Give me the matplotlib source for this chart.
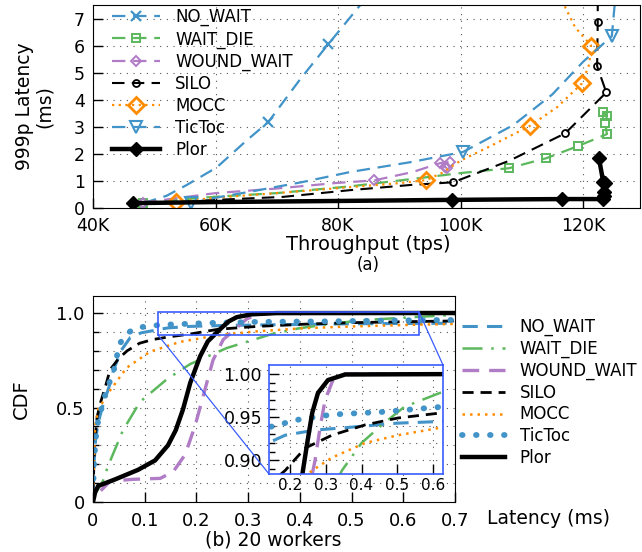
import matplotlib
matplotlib.use("Agg")
import matplotlib.pyplot as plt
from matplotlib.patches import Rectangle
from matplotlib.lines import Line2D

plt.rcParams["font.family"] = ["DejaVu Sans"]

BLUE = "#4193c8"
GREEN = "#5cb85c"
PURPLE = "#b07cc6"
ORANGE = "#ff8c00"
BOXBLUE = "#3a5cff"

# ---------------- (a) 999p latency vs throughput (K tps, ms) ----------------
nw_x = [48.2, 52.0, 55.3, 60.2, 65.1, 68.6, 73.8, 78.4, 84.0]
nw_y = [0.18, 0.45, 0.85, 1.50, 2.50, 3.17, 4.75, 6.05, 7.60]
nw_mark = [5, 7]

wd_x = [48.2, 60.2, 70.0, 82.0, 92.0, 100.0, 107.9, 114.0, 119.2, 123.9, 123.6, 123.9, 123.3]
wd_y = [0.20, 0.42, 0.55, 0.80, 1.07, 1.29, 1.47, 1.84, 2.29, 2.73, 3.14, 3.39, 3.55]
wd_mark = [0, 6, 7, 8, 9, 10, 11, 12]

ww_x = [48.2, 60.0, 70.0, 79.5, 85.9, 92.2, 96.7, 98.3, 97.4, 97.8]
ww_y = [0.20, 0.55, 0.72, 0.92, 1.02, 1.33, 1.66, 1.70, 1.52, 1.47]
ww_mark = [0, 4, 6, 7, 8, 9]

silo_x = [48.2, 60.0, 71.0, 82.0, 91.8, 98.8, 108.0, 117.1, 123.8, 122.3, 122.4, 122.4]
silo_y = [0.15, 0.30, 0.41, 0.66, 0.85, 0.95, 1.75, 2.76, 4.27, 5.24, 6.87, 7.60]
silo_mark = [5, 7, 8, 9, 10]

mocc_x = [53.6, 60.0, 70.0, 82.0, 90.0, 94.4, 97.0, 100.0, 105.0, 111.3, 115.8, 119.8, 121.0, 121.3, 118.7, 116.7]
mocc_y = [0.22, 0.38, 0.55, 0.77, 0.92, 1.03, 1.30, 1.75, 2.30, 3.03, 3.73, 4.60, 5.30, 6.00, 6.68, 7.60]
mocc_mark = [0, 5, 9, 11, 13]

tt_x = [56.0, 60.0, 65.6, 74.0, 82.0, 92.0, 100.4, 108.6, 115.0, 120.0, 124.7, 125.2]
tt_y = [0.18, 0.38, 0.60, 0.95, 1.33, 1.70, 2.07, 3.06, 4.20, 5.40, 6.35, 7.60]
tt_mark = [0, 6, 10]

plor_x = [46.5, 60.0, 80.0, 98.6, 110.0, 116.6, 123.3, 123.5, 123.4, 123.6, 123.3, 122.6]
plor_y = [0.18, 0.22, 0.26, 0.30, 0.32, 0.33, 0.33, 0.45, 0.60, 0.92, 0.96, 1.84]
plor_mark = [0, 3, 5, 6, 7, 8, 9, 10, 11]

thr_ticks = [40, 60, 80, 100, 120]
thr_labels = ["40K", "60K", "80K", "100K", "120K"]

# ---------------- (b) latency CDF, 20 workers ----------------
cdf_nw_x = [0, 0.002, 0.005, 0.01, 0.02, 0.03, 0.04, 0.054, 0.072, 0.093, 0.144, 0.186, 0.27, 0.362, 0.50, 0.625, 0.70]
cdf_nw_y = [0.05, 0.20, 0.33, 0.42, 0.52, 0.60, 0.70, 0.80, 0.87, 0.895, 0.921, 0.929, 0.935, 0.938, 0.943, 0.945, 0.946]

cdf_wd_x = [0, 0.01, 0.019, 0.029, 0.058, 0.091, 0.143, 0.188, 0.259, 0.345, 0.40, 0.457, 0.52, 0.625, 0.70]
cdf_wd_y = [0.03, 0.07, 0.11, 0.19, 0.38, 0.53, 0.65, 0.73, 0.815, 0.888, 0.92, 0.941, 0.962, 0.979, 0.99]

cdf_ww_x = [0.015, 0.033, 0.077, 0.13, 0.155, 0.178, 0.197, 0.213, 0.232, 0.252, 0.264, 0.27, 0.284, 0.298, 0.32, 0.354, 0.70]
cdf_ww_y = [0.06, 0.11, 0.12, 0.125, 0.16, 0.25, 0.40, 0.56, 0.75, 0.86, 0.888, 0.90, 0.938, 0.97, 0.993, 1.0, 1.0]

cdf_silo_x = [0, 0.003, 0.008, 0.015, 0.025, 0.033, 0.05, 0.066, 0.09, 0.116, 0.15, 0.186, 0.242, 0.317, 0.41, 0.502, 0.625, 0.70]
cdf_silo_y = [0.05, 0.30, 0.45, 0.53, 0.62, 0.70, 0.76, 0.80, 0.84, 0.86, 0.875, 0.888, 0.914, 0.929, 0.941, 0.949, 0.955, 0.958]

cdf_mocc_x = [0, 0.004, 0.01, 0.033, 0.065, 0.11, 0.168, 0.232, 0.262, 0.317, 0.41, 0.502, 0.625, 0.70]
cdf_mocc_y = [0.05, 0.40, 0.49, 0.59, 0.71, 0.795, 0.847, 0.878, 0.888, 0.903, 0.92, 0.929, 0.938, 0.942]

cdf_tt_x = [0, 0.002, 0.005, 0.01, 0.014, 0.02, 0.027, 0.039, 0.046, 0.052, 0.068, 0.081, 0.11, 0.138, 0.222, 0.317, 0.457, 0.625, 0.70]
cdf_tt_y = [0.05, 0.20, 0.33, 0.43, 0.47, 0.53, 0.60, 0.68, 0.77, 0.84, 0.895, 0.92, 0.932, 0.938, 0.947, 0.953, 0.956, 0.962, 0.963]

cdf_plor_x = [0, 0.004, 0.01, 0.043, 0.087, 0.12, 0.145, 0.16, 0.174, 0.188, 0.207, 0.222, 0.236, 0.248, 0.262, 0.278, 0.306, 0.354, 0.70]
cdf_plor_y = [0.0, 0.05, 0.085, 0.12, 0.17, 0.22, 0.30, 0.38, 0.49, 0.63, 0.77, 0.85, 0.888, 0.92, 0.955, 0.978, 0.993, 0.9995, 1.0]

fig = plt.figure(figsize=(6.42, 5.52), dpi=100)

GRID = dict(color="#555555", linestyle=(0, (1, 5)), linewidth=0.8)

# ---- top panel ----
ax1 = fig.add_axes([93 / 642, 1 - 208 / 552, 547 / 642, 203 / 552])

top_series = [
    ("NO_WAIT", nw_x, nw_y, nw_mark, dict(color=BLUE, ls=(0, (6, 3.5)), lw=1.6, marker="x", ms=7, mew=1.6)),
    ("WAIT_DIE", wd_x, wd_y, wd_mark, dict(color=GREEN, ls=(0, (6, 3.5)), lw=1.6, marker="s", ms=5.5, mfc="none", mew=1.4)),
    ("WOUND_WAIT", ww_x, ww_y, ww_mark, dict(color=PURPLE, ls=(0, (6, 3.5)), lw=1.6, marker="D", ms=5, mfc="none", mew=1.4)),
    ("SILO", silo_x, silo_y, silo_mark, dict(color="black", ls=(0, (6, 3.5)), lw=1.5, marker="o", ms=5, mfc="none", mew=1.3)),
    ("MOCC", mocc_x, mocc_y, mocc_mark, dict(color=ORANGE, ls=(0, (1, 2)), lw=1.6, marker="D", ms=8, mfc="none", mew=2)),
    ("TicToc", tt_x, tt_y, tt_mark, dict(color=BLUE, ls=(0, (6, 3.5)), lw=1.6, marker="v", ms=9, mfc="none", mew=1.5)),
    ("Plor", plor_x, plor_y, plor_mark, dict(color="black", ls="-", lw=3.2, marker="D", ms=7)),
]
for name, xs, ys, marks, style in top_series:
    ax1.plot(xs, ys, markevery=marks, label=name, **style)

ax1.set_xlim(40, 129.3)
ax1.set_ylim(0, 7.5)
ax1.set_xticks(thr_ticks)
ax1.set_xticklabels(thr_labels)
ax1.set_yticks(range(0, 8))
ax1.tick_params(direction="in", length=7, labelsize=12.5, width=1)
ax1.tick_params(axis="x", pad=6.5)
ax1.tick_params(axis="y", pad=6)
ax1.grid(True, **GRID)
fig.text(368 / 642, 1 - 244 / 552, "Throughput (tps)", ha="center", va="center", fontsize=14)
ax1.set_ylabel("999p Latency\n(ms)", fontsize=13.5, labelpad=14, linespacing=1.1)
fig.text(368 / 642, 1 - 265 / 552, "(a)", ha="center", va="center", fontsize=12)
ax1.legend(loc="upper left", bbox_to_anchor=(112 / 642, 1 - 8 / 552),
           bbox_transform=fig.transFigure, frameon=False, fontsize=12,
           handlelength=2.9, handletextpad=0.9, labelspacing=0.24, borderpad=0,
           borderaxespad=0)

# ---- bottom panel ----
ax2 = fig.add_axes([93 / 642, 1 - 502 / 552, 362 / 642, 206 / 552])

cdf_series = [
    ("NO_WAIT", cdf_nw_x, cdf_nw_y, dict(color=BLUE, ls=(0, (5, 3)), lw=2.2)),
    ("WAIT_DIE", cdf_wd_x, cdf_wd_y, dict(color=GREEN, ls=(0, (8, 3.5, 1, 3.5)), lw=1.8)),
    ("WOUND_WAIT", cdf_ww_x, cdf_ww_y, dict(color=PURPLE, ls=(0, (5, 3)), lw=2.4)),
    ("SILO", cdf_silo_x, cdf_silo_y, dict(color="black", ls=(0, (4, 2.5)), lw=2.0)),
    ("MOCC", cdf_mocc_x, cdf_mocc_y, dict(color=ORANGE, ls=(0, (1, 2)), lw=1.8)),
    ("TicToc", cdf_tt_x, cdf_tt_y, dict(color=BLUE, ls=(0, (0.1, 2.3)), lw=4.2, dash_capstyle="round")),
    ("Plor", cdf_plor_x, cdf_plor_y, dict(color="black", ls="-", lw=3.2)),
]
for name, xs, ys, style in cdf_series:
    ax2.plot(xs, ys, label=name, **style)

ax2.set_xlim(0, 0.7)
ax2.set_ylim(0, 1.09)
ax2.set_xticks([0, 0.1, 0.2, 0.3, 0.4, 0.5, 0.6, 0.7])
ax2.set_xticklabels(["0", "0.1", "0.2", "0.3", "0.4", "0.5", "0.6", "0.7"])
ax2.set_yticks([0, 0.5, 1.0])
ax2.set_yticklabels(["0", "0.5", "1.0"])
ax2.set_yticks([0.1, 0.2, 0.3, 0.4, 0.6, 0.7, 0.8, 0.9], minor=True)
ax2.tick_params(direction="in", length=7, labelsize=13, width=1)
ax2.tick_params(axis="x", pad=7)
ax2.tick_params(axis="y", pad=6)
ax2.tick_params(which="minor", direction="in", length=4, width=1)
ax2.grid(True, which="both", **GRID)
ax2.set_ylabel("CDF", fontsize=14, labelpad=18)
fig.text(487 / 642, 1 - 518 / 552, "Latency (ms)", ha="left", va="center", fontsize=13.5)
fig.text(273 / 642, 1 - 540 / 552, "(b) 20 workers", ha="center", va="center", fontsize=13.5)

handles = [Line2D([], [], **s) for _, _, _, s in cdf_series]
labels = [n for n, _, _, _ in cdf_series]
fig.legend(handles, labels, loc="upper left", bbox_to_anchor=(462 / 642, 1 - 318 / 552),
           frameon=False, fontsize=12, handlelength=2.6, handletextpad=0.85,
           labelspacing=0.22, borderpad=0, borderaxespad=0)

# zoom box + connectors
ax2.add_patch(Rectangle((0.126, 0.884), 0.505, 0.121, fill=False, edgecolor=BOXBLUE, lw=1.2, zorder=5))

axin = fig.add_axes([269 / 642, 1 - 474 / 552, 174 / 642, 109 / 552])
for name, xs, ys, style in cdf_series:
    axin.plot(xs, ys, **style)
axin.set_xlim(0.141, 0.628)
axin.set_ylim(0.884, 1.0105)
axin.set_xticks([0.2, 0.3, 0.4, 0.5, 0.6])
axin.set_xticklabels(["0.2", "0.3", "0.4", "0.5", "0.6"])
axin.set_yticks([0.90, 0.95, 1.00])
axin.set_yticklabels(["0.90", "0.95", "1.00"])
axin.set_yticks([0.89 + 0.01 * i for i in range(12)], minor=True)
axin.tick_params(axis="x", direction="in", length=7, labelsize=11, pad=3, width=1)
axin.tick_params(axis="y", direction="in", length=7, labelsize=12.5, pad=5, width=1)
axin.tick_params(which="minor", direction="in", length=4, width=1)
axin.grid(True, axis="x", **GRID)
for gy in [0.90, 0.92, 0.94, 0.96, 0.98, 1.00]:
    axin.axhline(gy, zorder=0, **GRID)
for sp in axin.spines.values():
    sp.set_edgecolor(BOXBLUE)
    sp.set_linewidth(1.2)

# connector lines in figure coords
fig.add_artist(Line2D([158 / 642, 269 / 642], [1 - 335 / 552, 1 - 474 / 552],
                      color=BOXBLUE, lw=0.9, transform=fig.transFigure))
fig.add_artist(Line2D([419 / 642, 443 / 642], [1 - 312 / 552, 1 - 365 / 552],
                      color=BOXBLUE, lw=0.9, transform=fig.transFigure))

fig.savefig("out.png", dpi=100)
